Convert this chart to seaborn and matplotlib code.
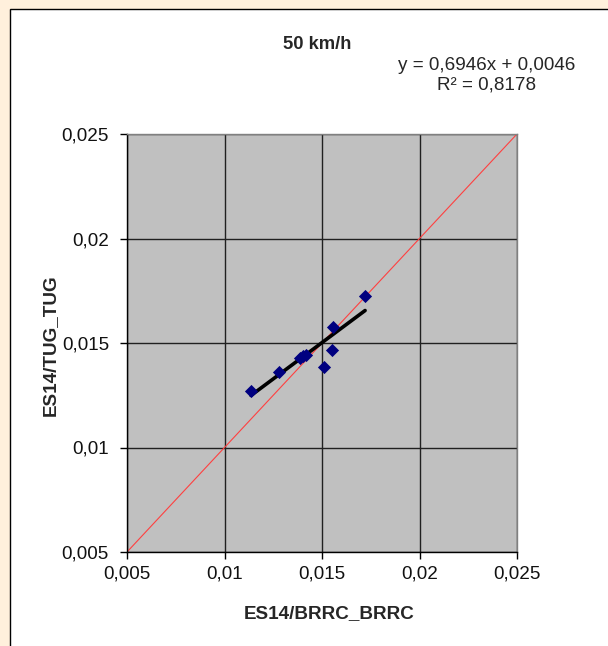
import numpy as np
import pandas as pd
import matplotlib
matplotlib.use("Agg")
import matplotlib.pyplot as plt
import seaborn as sns
from matplotlib.patches import Rectangle
from matplotlib.ticker import FuncFormatter

# data
brrc = [0.01136, 0.01279, 0.01385, 0.01400, 0.01418, 0.01512, 0.01553, 0.01556, 0.01721]
tug = [0.01270, 0.01363, 0.01428, 0.01437, 0.01443, 0.01387, 0.01467, 0.01575, 0.01725]
slope, intercept, r2 = 0.6946, 0.0046, 0.8178
axis_ticks = [0.005, 0.01, 0.015, 0.02, 0.025]

df = pd.DataFrame({"x": brrc, "y": tug})
x_fit = np.array([min(brrc), max(brrc)])
fit_df = pd.DataFrame({"x": x_fit, "y": slope * x_fit + intercept})
diag_df = pd.DataFrame({"x": [axis_ticks[0], axis_ticks[-1]], "y": [axis_ticks[0], axis_ticks[-1]]})

sns.set_theme(style="white")
plt.rcParams["font.family"] = ["Liberation Sans", "DejaVu Sans"]
FS = 13.6

W, H = 608, 646
fig = plt.figure(figsize=(W / 100, H / 100), dpi=100)
fig.patch.set_facecolor("#FFF0DC")
frame = Rectangle((9.5 / W, -0.1), 1.2, 1 - 9.5 / H + 0.1, transform=fig.transFigure,
                  facecolor="white", edgecolor="black", linewidth=1.0, zorder=-10)
fig.add_artist(frame)

ax = fig.add_axes([127 / W, 1 - 552 / H, (517 - 127) / W, (552 - 134) / H])
ax.set_facecolor("#C0C0C0")

sns.lineplot(data=diag_df, x="x", y="y", color="#FF4040", linewidth=0.8, ax=ax, zorder=2)
sns.lineplot(data=fit_df, x="x", y="y", color="black", linewidth=2.6, ax=ax, zorder=3)
sns.scatterplot(data=df, x="x", y="y", marker="D", s=45, color="#000080",
                edgecolor="#000080", linewidth=0, ax=ax, zorder=4)

ax.set_xlim(axis_ticks[0], axis_ticks[-1])
ax.set_ylim(axis_ticks[0], axis_ticks[-1])
ax.set_xticks(axis_ticks)
ax.set_yticks(axis_ticks)
fmt = FuncFormatter(lambda v, p: f"{v:g}".replace(".", ","))
ax.xaxis.set_major_formatter(fmt)
ax.yaxis.set_major_formatter(fmt)
ax.grid(True, color="#202020", linewidth=1.0)
ax.set_axisbelow(True)
ax.tick_params(axis="both", direction="out", length=5, width=1, color="black",
               labelsize=FS, labelcolor="#111111", bottom=True, left=True)
ax.tick_params(axis="x", pad=5)
ax.tick_params(axis="y", pad=8)
for side in ["top", "right"]:
    ax.spines[side].set_color("#808080")
    ax.spines[side].set_linewidth(1.0)
for side in ["left", "bottom"]:
    ax.spines[side].set_color("black")
    ax.spines[side].set_linewidth(1.0)

ax.set_xlabel("ES14/BRRC_BRRC", fontsize=FS, fontweight="bold", va="baseline")
ax.xaxis.set_label_coords((329 - 127) / 390, -(618 - 552) / 418)
ax.set_ylabel("ES14/TUG_TUG", fontsize=FS, fontweight="bold", va="baseline")
ax.yaxis.set_label_coords((55 - 127) / 390, (552 - 345) / 418)

fig.text(317 / W, 1 - 49 / H, "50 km/h", fontsize=13.2, fontweight="bold", ha="center", va="baseline")
eq = f"y = {slope:.4f}x + {intercept:.4f}".replace(".", ",")
fig.text(486.5 / W, 1 - 70 / H, eq, fontsize=FS, ha="center", va="baseline")
fig.text(486.5 / W, 1 - 89 / H, f"R² = {r2:.4f}".replace(".", ","), fontsize=FS, ha="center", va="baseline")

fig.savefig("out.png", dpi=100, facecolor=fig.get_facecolor())
